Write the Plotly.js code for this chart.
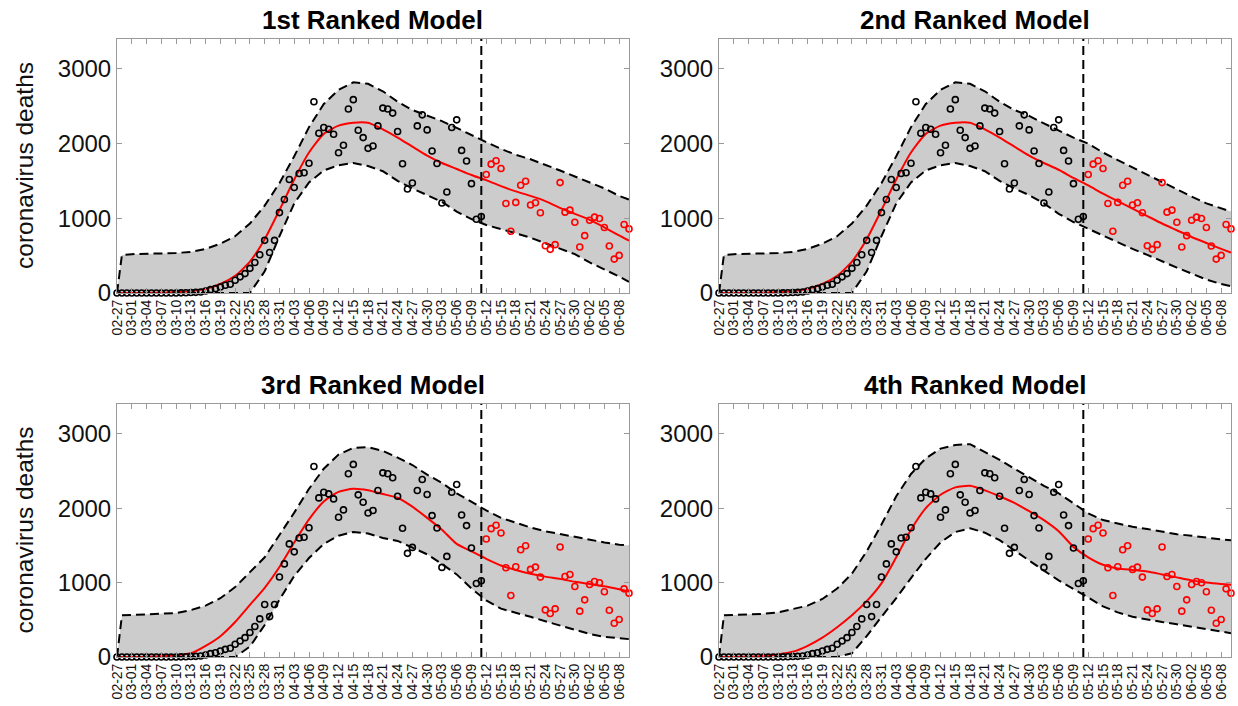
<!DOCTYPE html>
<html>
<head>
<meta charset="utf-8">
<script src="https://cdn.plot.ly/plotly-3.0.1.min.js"></script>
<style>
  html, body { margin: 0; padding: 0; background: #fff; }
  #chart { width: 1238px; height: 706px; }
</style>
</head>
<body>
<div id="chart"></div>
<script>
// Daily coronavirus deaths: days fitted by the models (black) and held-out days (red)
const fitDeaths = [
  0, 0, 0, 0, 0, 0, 0, 0, 0, 0, 0, 0, 0, 2, 4, 6, 9, 13, 27, 45,
  58, 81, 103, 117, 171, 216, 260, 330, 409, 512, 705, 543, 705, 1076, 1251, 1520, 1413, 1600, 1610, 1736,
  2560, 2138, 2215, 2192, 2125, 1878, 1977, 2462, 2588, 2179, 2080, 1936, 1968, 2237, 2475, 2462, 2408, 2161, 1730, 1393,
  1473, 2237, 2385, 2183, 1900, 1734, 1204, 1352, 2215, 2318, 1909, 1766, 1464, 988, 1024
];
const holdoutDeaths = [
  1586, 1725, 1770, 1667, 1199, 826, 1213, 1442, 1496, 1177, 1208, 1074, 633, 584, 647,
  1478, 1082, 1109, 947, 616, 768, 974, 1015, 997, 876, 629, 454, 503, 916, 858
];

// Date labels, one every three days starting 2020-02-27
const tickLabels = [
  "02-27", "03-01", "03-04", "03-07", "03-10", "03-13", "03-16", "03-19", "03-22", "03-25",
  "03-28", "03-31", "04-03", "04-06", "04-09", "04-12", "04-15", "04-18", "04-21", "04-24",
  "04-27", "04-30", "05-03", "05-06", "05-09", "05-12", "05-15", "05-18", "05-21", "05-24",
  "05-27", "05-30", "06-02", "06-05", "06-08"
];

const modelTitles = ["1st Ranked Model", "2nd Ranked Model", "3rd Ranked Model", "4th Ranked Model"];

// Day index at which each model curve is given
const curveDays = [0, 1, 3, 6, 9, 12, 15, 18, 21, 24, 27, 30, 33, 36, 39, 42, 45, 48, 51, 54,
  57, 60, 63, 66, 69, 72, 75, 78, 81, 84, 87, 90, 93, 96, 99, 102, 104];

// Model 1: mean prediction and 95% band
const m1Mean  = [0, 0, 0, 2, 5, 12, 25, 55, 120, 230, 420, 720, 1110, 1520, 1880, 2130, 2240, 2280, 2280, 2190,
  2080, 1960, 1840, 1740, 1660, 1580, 1510, 1430, 1360, 1300, 1230, 1140, 1060, 980, 880, 770, 700];
const m1Lower = [0, 0, 0, 0, 0, 0, 0, 0, 0, 0, 0, 290, 760, 1200, 1480, 1640, 1710, 1740, 1700, 1630,
  1500, 1400, 1310, 1220, 1090, 990, 910, 860, 800, 740, 670, 600, 520, 410, 320, 220, 150];
const m1Upper = [0, 510, 520, 530, 530, 535, 550, 590, 660, 760, 930, 1170, 1470, 1830, 2220, 2530, 2720, 2820, 2800, 2700,
  2560, 2450, 2380, 2300, 2210, 2110, 2020, 1930, 1850, 1790, 1720, 1640, 1560, 1480, 1400, 1300, 1250];

// Model 2
const m2Mean  = [0, 0, 0, 2, 5, 12, 25, 55, 120, 230, 420, 720, 1110, 1520, 1880, 2130, 2240, 2280, 2280, 2190,
  2080, 1960, 1840, 1740, 1650, 1540, 1440, 1330, 1230, 1130, 1030, 930, 840, 750, 670, 590, 540];
const m2Lower = [0, 0, 0, 0, 0, 0, 0, 0, 0, 0, 0, 290, 760, 1200, 1480, 1640, 1710, 1740, 1700, 1630,
  1500, 1400, 1310, 1200, 1060, 950, 860, 760, 680, 590, 510, 420, 340, 260, 180, 120, 90];
const m2Upper = [0, 510, 520, 530, 530, 535, 550, 590, 660, 760, 930, 1170, 1470, 1830, 2220, 2530, 2720, 2820, 2800, 2700,
  2560, 2450, 2370, 2270, 2170, 2080, 2000, 1880, 1780, 1680, 1580, 1480, 1380, 1290, 1200, 1130, 1090];

// Model 3
const m3Mean  = [0, 0, 0, 3, 10, 25, 50, 150, 280, 470, 700, 930, 1210, 1540, 1850, 2090, 2220, 2260, 2240, 2190,
  2140, 2020, 1870, 1710, 1520, 1420, 1320, 1230, 1170, 1120, 1080, 1050, 1010, 980, 950, 910, 880];
const m3Lower = [0, 0, 0, 0, 0, 0, 0, 0, 0, 0, 140, 430, 770, 1090, 1330, 1520, 1630, 1680, 1660, 1600,
  1560, 1470, 1380, 1250, 1110, 920, 760, 650, 600, 540, 480, 420, 360, 310, 270, 250, 240];
const m3Upper = [0, 560, 565, 570, 580, 590, 630, 690, 790, 940, 1140, 1340, 1640, 1940, 2260, 2530, 2720, 2810, 2820, 2770,
  2680, 2580, 2450, 2340, 2200, 2080, 1970, 1870, 1800, 1740, 1690, 1650, 1610, 1570, 1540, 1510, 1500];

// Model 4
const m4Mean  = [0, 0, 0, 5, 15, 35, 70, 150, 260, 400, 560, 750, 990, 1340, 1710, 2000, 2180, 2280, 2300, 2240,
  2160, 2070, 1960, 1840, 1690, 1480, 1340, 1240, 1190, 1170, 1150, 1110, 1070, 1030, 1000, 980, 970];
const m4Lower = [0, 0, 0, 0, 0, 0, 0, 0, 0, 0, 50, 280, 540, 790, 1060, 1320, 1540, 1680, 1730, 1670,
  1570, 1430, 1290, 1160, 1030, 920, 800, 680, 600, 540, 500, 470, 440, 410, 370, 340, 320];
const m4Upper = [0, 560, 565, 570, 580, 600, 640, 690, 780, 920, 1120, 1420, 1780, 2160, 2460, 2670, 2800, 2850, 2860, 2760,
  2650, 2530, 2410, 2300, 2200, 2060, 1930, 1840, 1790, 1750, 1720, 1680, 1650, 1630, 1600, 1580, 1570];

const models = [
  { mean: m1Mean, lower: m1Lower, upper: m1Upper },
  { mean: m2Mean, lower: m2Lower, upper: m2Upper },
  { mean: m3Mean, lower: m3Lower, upper: m3Upper },
  { mean: m4Mean, lower: m4Lower, upper: m4Upper }
];

const lastFitDay = fitDeaths.length - 1;
const fitDays = fitDeaths.map((_, i) => i);
const holdoutDays = holdoutDeaths.map((_, i) => fitDeaths.length + i);
const tickDays = tickLabels.map((_, i) => 3 * i);

const W = 1238, H = 706;
// Plot-area pixel boxes [left, right] and [top, bottom]
const colsPx = [[117, 629], [719, 1231]];
const rowsPx = [[39, 293], [404, 657]];

const FONT = "Liberation Sans, Arial, Helvetica, sans-serif";
const traces = [];
const layout = {
  width: W, height: H,
  margin: { l: 0, r: 0, t: 0, b: 0 },
  paper_bgcolor: "#ffffff",
  plot_bgcolor: "#ffffff",
  showlegend: false,
  font: { family: FONT, color: "#000" },
  annotations: [],
  shapes: []
};

models.forEach((m, k) => {
  const suffix = k === 0 ? "" : String(k + 1);
  const xa = "x" + suffix, ya = "y" + suffix;
  const col = k % 2, row = Math.floor(k / 2);
  const [l, r] = colsPx[col];
  const [t, b] = rowsPx[row];

  // shaded band
  traces.push({
    x: curveDays, y: m.lower, xaxis: xa, yaxis: ya, mode: "lines",
    line: { width: 0, color: "rgba(0,0,0,0)" }, hoverinfo: "skip"
  });
  traces.push({
    x: curveDays, y: m.upper, xaxis: xa, yaxis: ya, mode: "lines",
    fill: "tonexty", fillcolor: "#cccccc",
    line: { width: 0, color: "rgba(0,0,0,0)" }, hoverinfo: "skip"
  });
  // dashed band edges
  [m.lower, m.upper].forEach(edge => traces.push({
    x: curveDays, y: edge, xaxis: xa, yaxis: ya, mode: "lines",
    line: { color: "#000", width: 2, dash: "9px,5px" }, hoverinfo: "skip"
  }));
  // mean prediction
  traces.push({
    x: curveDays, y: m.mean, xaxis: xa, yaxis: ya, mode: "lines",
    line: { color: "#ff0000", width: 2, shape: "spline", smoothing: 0.6 }
  });
  // observations
  traces.push({
    x: fitDays, y: fitDeaths, xaxis: xa, yaxis: ya, mode: "markers", cliponaxis: false,
    marker: { symbol: "circle-open", size: 6, color: "#000", line: { width: 1.6, color: "#000" } }
  });
  traces.push({
    x: holdoutDays, y: holdoutDeaths, xaxis: xa, yaxis: ya, mode: "markers", cliponaxis: false,
    marker: { symbol: "circle-open", size: 6, color: "#ff0000", line: { width: 1.6, color: "#ff0000" } }
  });

  const axisCommon = {
    showgrid: false, zeroline: false, showline: true, linecolor: "#9a9a9a", linewidth: 1,
    mirror: "ticks", ticks: "inside", ticklen: 5, tickcolor: "#9a9a9a", tickwidth: 1
  };
  layout["xaxis" + suffix] = Object.assign({}, axisCommon, {
    anchor: ya,
    domain: [l / W, r / W],
    range: [0, holdoutDays[holdoutDays.length - 1]],
    tickmode: "array", tickvals: tickDays, ticktext: tickLabels,
    tickangle: -90, tickfont: { size: 14, family: FONT, color: "#111" }
  });
  layout["yaxis" + suffix] = Object.assign({}, axisCommon, {
    anchor: xa,
    domain: [1 - b / H, 1 - t / H],
    range: [0, 3400],
    tickmode: "array", tickvals: [0, 1000, 2000, 3000],
    tickfont: { size: 24, family: FONT, color: "#111" }
  });

  // boundary between fitted and held-out days
  layout.shapes.push({
    type: "line", xref: xa, yref: ya + " domain",
    x0: lastFitDay, x1: lastFitDay, y0: 0, y1: 1,
    line: { color: "#000", width: 2, dash: "9px,5px" }
  });

  layout.annotations.push({
    text: "<b>" + modelTitles[k] + "</b>", xref: "paper", yref: "paper",
    x: (l + r) / 2 / W, y: 1 - (t - 19) / H, xanchor: "center", yanchor: "middle",
    showarrow: false, font: { size: 26, family: FONT, color: "#000" }
  });
  if (col === 0) {
    layout.annotations.push({
      text: "coronavirus deaths", xref: "paper", yref: "paper",
      x: 24 / W, y: 1 - (t + b) / 2 / H, xanchor: "center", yanchor: "middle",
      textangle: -90, showarrow: false, font: { size: 24.5, family: FONT, color: "#111" }
    });
  }
});

Plotly.newPlot("chart", traces, layout, { staticPlot: true, displayModeBar: false });
</script>
</body>
</html>
